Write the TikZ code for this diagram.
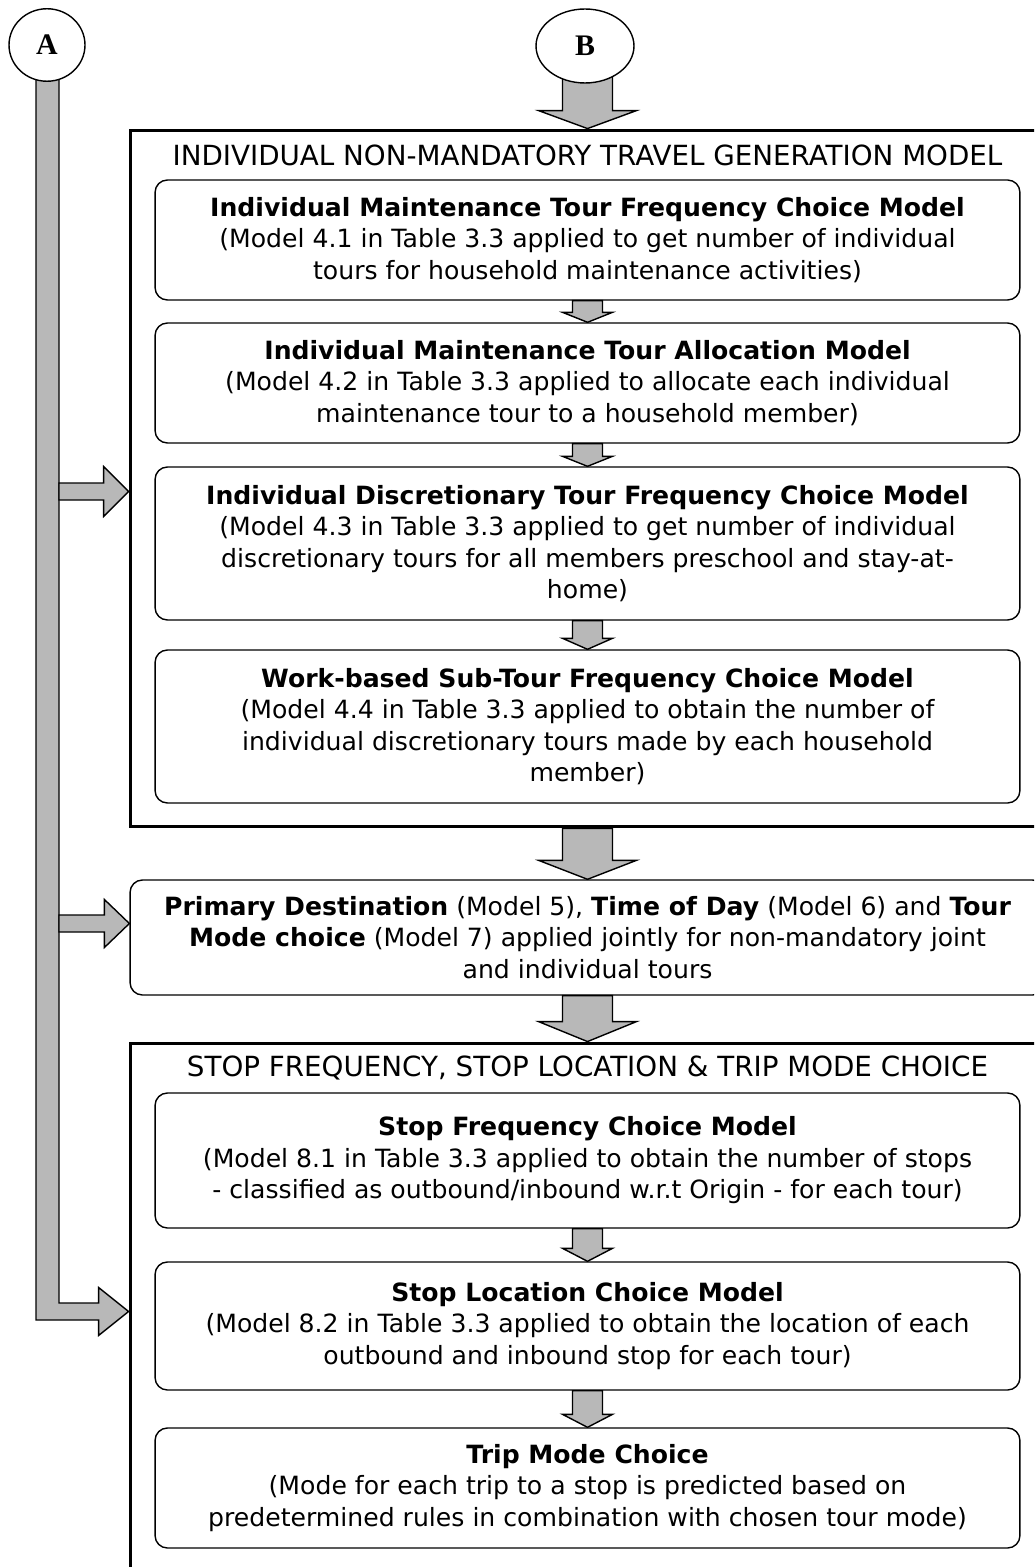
\documentclass[tikz,border=0pt]{standalone}
\usepackage{fontspec}
\setmainfont{DejaVu Sans}
\newfontfamily\labelfont{Liberation Serif}
\usetikzlibrary{
    positioning,
    calc,
    backgrounds,
    shapes.geometric
}

% Flechas de bloque (origen, destino, medio ancho del cuerpo, medio ancho de la punta, largo de la punta)
\newcommand{\downblock}[5]{%
  \draw[blockarrow] ($(#2 |- #1)+(-#3,0)$) -- ($(#2)+(-#3,-#5)$) -- ($(#2)+(-#4,-#5)$)
    -- (#2) -- ($(#2)+(#4,-#5)$) -- ($(#2)+(#3,-#5)$) -- ($(#2 |- #1)+(#3,0)$) -- cycle;}
\newcommand{\rightblock}[5]{%
  \draw[blockarrow] ($(#1 |- #2)+(0,-#3)$) -- ($(#2)+(-#5,-#3)$) -- ($(#2)+(-#5,-#4)$)
    -- (#2) -- ($(#2)+(-#5,#4)$) -- ($(#2)+(-#5,#3)$) -- ($(#1 |- #2)+(0,#3)$) -- cycle;}

\begin{document}
\begin{tikzpicture}[
    x=0.02cm, y=-0.02cm,
    font=\fontsize{14.3}{17.9}\selectfont,
    % Estilos de Nodos
    onpage/.style={ellipse, draw=black, line width=0.8pt, fill=white, inner sep=0pt,
                   font=\labelfont\fontsize{17}{17}\selectfont\bfseries},
    groupbox/.style={rectangle, draw=black, line width=1.7pt, minimum width=18.3cm},
    grouptitle/.style={inner sep=0pt, font=\fontsize{15.8}{17.9}\selectfont},
    modelbox/.style={rectangle, draw=black, rounded corners=7pt, line width=0.8pt,
                     minimum width=17.3cm, align=center, inner sep=0pt},
    jointbox/.style={modelbox, minimum width=18.3cm},
    % Estilos de Flechas
    blockarrow/.style={draw=black, line width=0.8pt, fill=black!28, line join=miter}
]

\useasboundingbox (0,0) rectangle (1034,1567);
\clip (0,0) rectangle (1034,1567);

% --- Conectores de pagina ---
\node[onpage, minimum width=1.52cm, minimum height=1.45cm] (A) at (47,45) {A};
\node[onpage, minimum width=1.96cm, minimum height=1.48cm] (B) at (585,46) {B};

% === GENERACION DE VIAJES NO OBLIGATORIOS ===
\node[groupbox, minimum height=13.94cm] (grp1) at (587.5,478.5) {};
\node[grouptitle] (title1) at (587.5,155) {INDIVIDUAL NON-MANDATORY TRAVEL GENERATION MODEL};

\node[modelbox, minimum height=2.4cm] (maint_freq) at (587.5,240)
    {\textbf{Individual Maintenance Tour Frequency Choice Model}\\
     (Model 4.1 in Table 3.3 applied to get number of individual\\
     tours for household maintenance activities)};
\node[modelbox, minimum height=2.4cm] (maint_alloc) at (587.5,383)
    {\textbf{Individual Maintenance Tour Allocation Model}\\
     (Model 4.2 in Table 3.3 applied to allocate each individual\\
     maintenance tour to a household member)};
\node[modelbox, minimum height=3.06cm] (disc_freq) at (587.5,543.5)
    {\textbf{Individual Discretionary Tour Frequency Choice Model}\\
     (Model 4.3 in Table 3.3 applied to get number of individual\\
     discretionary tours for all members preschool and stay-at-\\
     home)};
\node[modelbox, minimum height=3.06cm] (subtour_freq) at (587.5,726.5)
    {\textbf{Work-based Sub-Tour Frequency Choice Model}\\
     (Model 4.4 in Table 3.3 applied to obtain the number of\\
     individual discretionary tours made by each household\\
     member)};

% === DESTINO, HORA Y MODO ===
\node[jointbox, minimum height=2.3cm] (joint) at (587.5,937.5)
    {\textbf{Primary Destination} (Model 5), \textbf{Time of Day} (Model 6) and \textbf{Tour}\\
     \textbf{Mode choice} (Model 7) applied jointly for non-mandatory joint\\
     and individual tours};

% === PARADAS ===
\node[groupbox, minimum height=10.74cm] (grp2) at (587.5,1311.5) {};
\node[grouptitle] (title2) at (587.5,1068) {STOP FREQUENCY, STOP LOCATION \& TRIP MODE CHOICE};

\node[modelbox, minimum height=2.7cm] (stop_freq) at (587.5,1160.5)
    {\textbf{Stop Frequency Choice Model}\\
     (Model 8.1 in Table 3.3 applied to obtain the number of stops\\
     - classified as outbound/inbound w.r.t Origin - for each tour)};
\node[modelbox, minimum height=2.56cm] (stop_loc) at (587.5,1326)
    {\textbf{Stop Location Choice Model}\\
     (Model 8.2 in Table 3.3 applied to obtain the location of each\\
     outbound and inbound stop for each tour)};
\node[modelbox, minimum height=2.4cm] (trip_mode) at (587.5,1488)
    {\textbf{Trip Mode Choice}\\
     (Mode for each trip to a stop is predicted based on\\
     predetermined rules in combination with chosen tour mode)};

% --- Puntos de entrada de las flechas de A ---
\coordinate (abar) at ($(A.center)+(12,0)$);
\coordinate (in1) at ($(grp1.west)+(0,13)$);
\coordinate (in2) at ($(joint.west)+(0,-14)$);

\begin{pgfonlayer}{background}
    \fill[white] (0,0) rectangle (1034,1567);
    % Linea de A hasta la caja de paradas
    \draw[blockarrow] ($(A.center)+(-11,0)$) -- ($(A.center |- grp2.west)+(-11,8.5)$)
        -- ($(grp2.west)+(-30,8.5)$) -- ($(grp2.west)+(-30,24)$) -- (grp2.west)
        -- ($(grp2.west)+(-30,-24)$) -- ($(grp2.west)+(-30,-8.5)$)
        -- ($(abar |- grp2.west)+(0,-8.5)$) -- (abar) -- cycle;
    \rightblock{abar}{in1}{8.5}{25}{25}
    \rightblock{abar}{in2}{8.5}{24}{25}

    % Flechas grandes
    \downblock{B.center}{grp1.north}{25}{49}{18}
    \downblock{grp1.south}{joint.north}{25}{49}{19}
    \downblock{joint.south}{grp2.north}{25}{49}{20}

    % Flechas pequenas
    \downblock{maint_freq.south}{maint_alloc.north}{15}{25}{10}
    \downblock{maint_alloc.south}{disc_freq.north}{15}{25}{10}
    \downblock{disc_freq.south}{subtour_freq.north}{15}{25}{11}
    \downblock{stop_freq.south}{stop_loc.north}{15}{25}{13}
    \downblock{stop_loc.south}{trip_mode.north}{15}{25}{13}
\end{pgfonlayer}

\end{tikzpicture}
\end{document}
